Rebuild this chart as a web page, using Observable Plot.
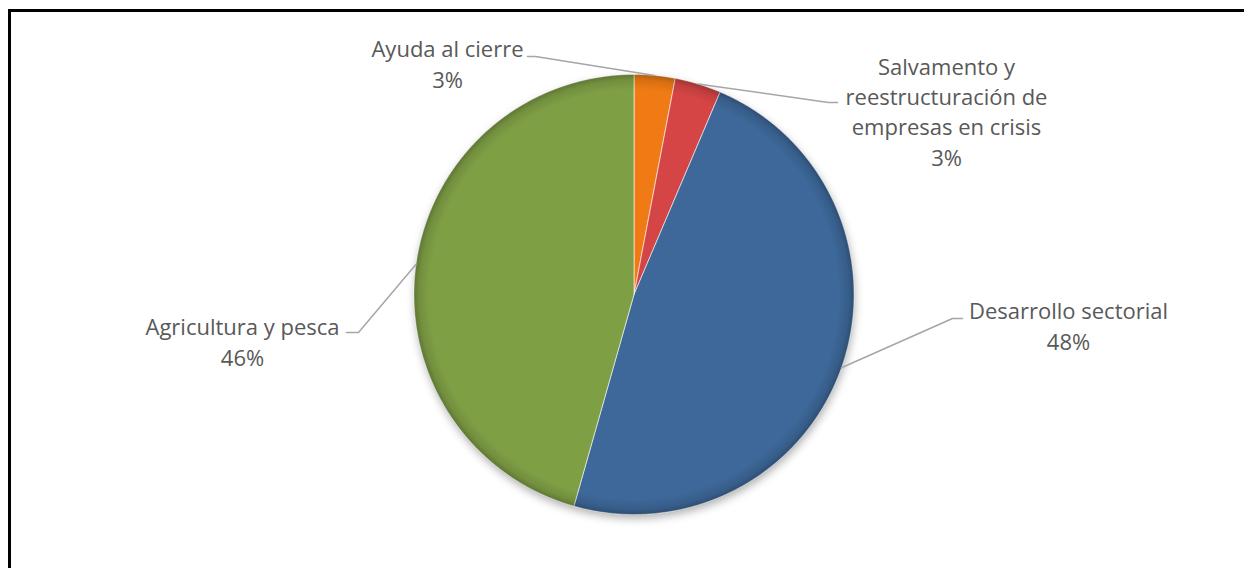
<!DOCTYPE html>
<html><head><meta charset="utf-8">
<script src="https://cdn.jsdelivr.net/npm/d3@7"></script>
<script src="https://cdn.jsdelivr.net/npm/@observablehq/plot@0.6"></script>
<style>
html,body{margin:0;padding:0;background:#fff;overflow:hidden;width:1244px;height:568px;}
#frame{position:absolute;left:8px;top:9px;right:-10px;bottom:-10px;border-top:3px solid #000;border-left:3.5px solid #000;}
#chart{position:absolute;left:0;top:0;}
</style></head><body><div id="frame"></div><div id="chart"></div>
<script>
// ---- data ----
const categories = ["Ayuda al cierre", "Salvamento y\nreestructuración de\nempresas en crisis", "Desarrollo sectorial", "Agricultura y pesca"];
const shares = [3.0, 3.4, 48.0, 45.6];
const colors = ["#F07B14", "#D64545", "#3D6899", "#7F9F45"];

// ---- layout (pixels) ----
const W = 1244, H = 568, cx = 633.5, cy = 294, R = 220;
const labelLayout = [
  {elbowX: 535, elbowY: 56, endX: 527, textX: 447, baseY: 87},
  {elbowX: 828, elbowY: 102, endX: 837, textX: 946, baseY: 165},
  {elbowX: 952, elbowY: 318, endX: 962, textX: 1068, baseY: 349},
  {elbowX: 358, elbowY: 332, endX: 346, textX: 242, baseY: 365}
];

const total = d3.sum(shares);
const arcs = d3.pie().sort(null).value(d => d)(shares);
const px = a => cx + R * Math.sin(a), py = a => cy - R * Math.cos(a);

const slicePts = [];
arcs.forEach((a, i) => {
  const name = categories[i];
  slicePts.push({name, x: cx, y: cy});
  const n = Math.max(4, Math.ceil((a.endAngle - a.startAngle) / 0.005));
  for (let k = 0; k <= n; k++) {
    const t = a.startAngle + (a.endAngle - a.startAngle) * k / n;
    slicePts.push({name, x: px(t), y: py(t)});
  }
  slicePts.push({name, x: cx, y: cy});
});

const leaderPts = [];
const labels = [];
arcs.forEach((a, i) => {
  const m = (a.startAngle + a.endAngle) / 2, L = labelLayout[i];
  leaderPts.push({name: categories[i], x: px(m), y: py(m)});
  leaderPts.push({name: categories[i], x: L.elbowX, y: L.elbowY});
  leaderPts.push({name: categories[i], x: L.endX, y: L.elbowY});
  labels.push({x: L.textX, y: L.baseY, text: categories[i] + "\n" + Math.round(shares[i] / total * 100) + "%"});
});

const center = [{x: cx, y: cy}];

const plot = Plot.plot({
  width: W, height: H, margin: 0,
  x: {domain: [0, W], range: [0, W], axis: null},
  y: {domain: [0, H], range: [0, H], axis: null},
  color: {domain: categories, range: colors},
  style: {background: "transparent", overflow: "visible"},
  marks: [
    Plot.dot(center, {x: "x", y: "y", r: R, fill: "#000", fillOpacity: 0.3, dy: 4, dx: 1}),
    Plot.line(slicePts, {x: "x", y: "y", z: "name", fill: "name", stroke: "#ffffff", strokeOpacity: 0.6, strokeWidth: 1, strokeLinejoin: "round", curve: "linear"}),
    Plot.dot(center, {x: "x", y: "y", r: R, fill: "url(#bevel)", stroke: "none"}),
    Plot.line(leaderPts, {x: "x", y: "y", z: "name", stroke: "#A6A6A6", strokeWidth: 1.5}),
    Plot.text(labels, {x: "x", y: "y", text: "text", textAnchor: "middle", lineAnchor: "bottom", lineHeight: 1.37, fontSize: 22, fill: "#595959", fontFamily: "Open Sans"})
  ]
});

const svg = d3.select(plot);
const defs = svg.insert("defs", ":first-child");
const g = defs.append("radialGradient").attr("id", "bevel");
[[0, 0], [0.93, 0], [0.975, 0.1], [1, 0.25]].forEach(([o, a]) =>
  g.append("stop").attr("offset", o).attr("stop-color", "#000").attr("stop-opacity", a));
defs.append("filter").attr("id", "shadow").attr("x", "-20%").attr("y", "-20%").attr("width", "140%").attr("height", "140%")
  .append("feGaussianBlur").attr("stdDeviation", 4);
const dots = svg.selectAll('g[aria-label="dot"]').nodes();
if (dots.length) d3.select(dots[0]).attr("filter", "url(#shadow)");

document.getElementById("chart").appendChild(plot);
</script>
</body></html>
